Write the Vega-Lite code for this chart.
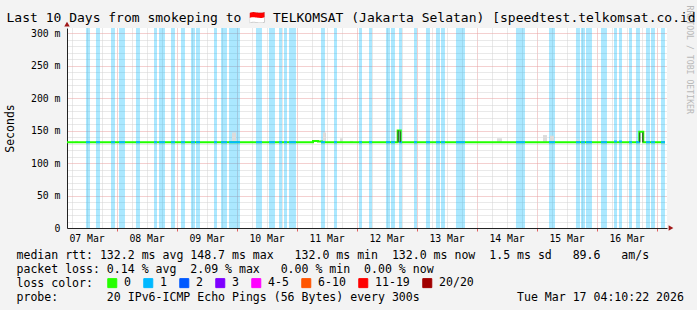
{
  "$schema": "https://vega.github.io/schema/vega-lite/v6.json",
  "width": 600,
  "height": 200,
  "autosize": {"type": "none"},
  "padding": {"left": 67, "top": 28, "right": 30, "bottom": 82},
  "background": "#f3f3f3",
  "config": {
    "view": {"fill": "white", "stroke": null}
  },
  "title": {
    "text": "Last 10 Days from smokeping to 🇮🇩 TELKOMSAT (Jakarta Selatan) [speedtest.telkomsat.co.id]",
    "font": "DejaVu Sans Mono",
    "fontSize": 13,
    "fontWeight": "normal",
    "color": "black",
    "anchor": "middle",
    "frame": "group",
    "offset": 4,
    "dy": 24,
    "dx": -12
  },
  "datasets": {
    "loss": [
      {"start": "2026-03-07T11:46:00Z", "end": "2026-03-07T13:22:00Z", "loss": "1", "median": 132},
      {"start": "2026-03-07T15:46:00Z", "end": "2026-03-07T17:22:00Z", "loss": "1", "median": 132},
      {"start": "2026-03-07T21:46:00Z", "end": "2026-03-07T23:22:00Z", "loss": "1", "median": 132},
      {"start": "2026-03-08T00:58:00Z", "end": "2026-03-08T03:22:00Z", "loss": "1", "median": 132},
      {"start": "2026-03-08T07:46:00Z", "end": "2026-03-08T09:22:00Z", "loss": "1", "median": 132},
      {"start": "2026-03-08T14:58:00Z", "end": "2026-03-08T16:10:00Z", "loss": "1", "median": 132},
      {"start": "2026-03-08T16:58:00Z", "end": "2026-03-08T19:22:00Z", "loss": "1", "median": 132},
      {"start": "2026-03-08T21:46:00Z", "end": "2026-03-08T23:22:00Z", "loss": "1", "median": 132},
      {"start": "2026-03-09T01:46:00Z", "end": "2026-03-09T03:22:00Z", "loss": "1", "median": 132},
      {"start": "2026-03-09T05:46:00Z", "end": "2026-03-09T07:22:00Z", "loss": "1", "median": 132},
      {"start": "2026-03-09T07:46:00Z", "end": "2026-03-09T09:22:00Z", "loss": "1", "median": 132},
      {"start": "2026-03-09T14:58:00Z", "end": "2026-03-09T16:10:00Z", "loss": "1", "median": 132},
      {"start": "2026-03-09T17:46:00Z", "end": "2026-03-09T20:10:00Z", "loss": "1", "median": 132},
      {"start": "2026-03-09T20:58:00Z", "end": "2026-03-10T01:22:00Z", "loss": "1", "median": 132},
      {"start": "2026-03-10T07:46:00Z", "end": "2026-03-10T10:10:00Z", "loss": "1", "median": 132},
      {"start": "2026-03-10T12:58:00Z", "end": "2026-03-10T15:22:00Z", "loss": "1", "median": 132},
      {"start": "2026-03-10T16:58:00Z", "end": "2026-03-10T18:10:00Z", "loss": "1", "median": 132},
      {"start": "2026-03-10T18:58:00Z", "end": "2026-03-10T20:10:00Z", "loss": "1", "median": 132},
      {"start": "2026-03-10T20:58:00Z", "end": "2026-03-10T23:46:00Z", "loss": "1", "median": 132},
      {"start": "2026-03-11T09:46:00Z", "end": "2026-03-11T11:22:00Z", "loss": "1", "median": 132},
      {"start": "2026-03-11T14:58:00Z", "end": "2026-03-11T16:10:00Z", "loss": "1", "median": 132},
      {"start": "2026-03-12T00:58:00Z", "end": "2026-03-12T02:10:00Z", "loss": "1", "median": 132},
      {"start": "2026-03-12T04:58:00Z", "end": "2026-03-12T06:10:00Z", "loss": "1", "median": 132},
      {"start": "2026-03-12T11:46:00Z", "end": "2026-03-12T13:22:00Z", "loss": "1", "median": 132},
      {"start": "2026-03-12T13:46:00Z", "end": "2026-03-12T15:22:00Z", "loss": "1", "median": 132},
      {"start": "2026-03-12T16:58:00Z", "end": "2026-03-12T18:10:00Z", "loss": "1", "median": 132},
      {"start": "2026-03-12T22:58:00Z", "end": "2026-03-13T00:10:00Z", "loss": "1", "median": 132},
      {"start": "2026-03-13T03:46:00Z", "end": "2026-03-13T05:22:00Z", "loss": "1", "median": 132},
      {"start": "2026-03-13T07:46:00Z", "end": "2026-03-13T09:22:00Z", "loss": "1", "median": 132},
      {"start": "2026-03-13T09:46:00Z", "end": "2026-03-13T11:22:00Z", "loss": "1", "median": 132},
      {"start": "2026-03-13T15:46:00Z", "end": "2026-03-13T19:22:00Z", "loss": "1", "median": 132},
      {"start": "2026-03-14T15:46:00Z", "end": "2026-03-14T19:22:00Z", "loss": "1", "median": 132},
      {"start": "2026-03-15T04:58:00Z", "end": "2026-03-15T07:22:00Z", "loss": "1", "median": 132},
      {"start": "2026-03-15T15:46:00Z", "end": "2026-03-15T17:22:00Z", "loss": "1", "median": 132},
      {"start": "2026-03-15T17:46:00Z", "end": "2026-03-15T19:22:00Z", "loss": "1", "median": 132},
      {"start": "2026-03-15T19:46:00Z", "end": "2026-03-15T22:10:00Z", "loss": "1", "median": 132},
      {"start": "2026-03-16T01:46:00Z", "end": "2026-03-16T04:10:00Z", "loss": "1", "median": 132},
      {"start": "2026-03-16T06:58:00Z", "end": "2026-03-16T08:10:00Z", "loss": "1", "median": 133},
      {"start": "2026-03-16T08:58:00Z", "end": "2026-03-16T10:10:00Z", "loss": "1", "median": 133},
      {"start": "2026-03-16T12:58:00Z", "end": "2026-03-16T14:10:00Z", "loss": "1", "median": 132},
      {"start": "2026-03-16T15:46:00Z", "end": "2026-03-16T17:22:00Z", "loss": "1", "median": 132},
      {"start": "2026-03-16T19:46:00Z", "end": "2026-03-16T21:22:00Z", "loss": "1", "median": 132},
      {"start": "2026-03-16T21:46:00Z", "end": "2026-03-16T23:22:00Z", "loss": "1", "median": 132},
      {"start": "2026-03-17T01:46:00Z", "end": "2026-03-17T03:22:00Z", "loss": "1", "median": 132}
    ],
    "median": [
      {"time": "2026-03-07T04:10:22Z", "ms": 132},
      {"time": "2026-03-11T06:34:00Z", "ms": 134},
      {"time": "2026-03-11T08:34:00Z", "ms": 133},
      {"time": "2026-03-11T10:10:00Z", "ms": 132},
      {"time": "2026-03-12T16:27:00Z", "ms": 150},
      {"time": "2026-03-12T17:39:00Z", "ms": 132},
      {"time": "2026-03-16T17:05:00Z", "ms": 148},
      {"time": "2026-03-16T18:41:00Z", "ms": 132},
      {"time": "2026-03-17T03:22:00Z", "ms": 132}
    ],
    "smoke": [
      {"start": "2026-03-07T07:22:00Z", "end": "2026-03-07T08:34:00Z", "lo": 132, "hi": 134},
      {"start": "2026-03-09T22:10:00Z", "end": "2026-03-09T23:46:00Z", "lo": 132, "hi": 147},
      {"start": "2026-03-10T05:22:00Z", "end": "2026-03-10T06:34:00Z", "lo": 132, "hi": 134},
      {"start": "2026-03-11T10:34:00Z", "end": "2026-03-11T11:46:00Z", "lo": 132, "hi": 147},
      {"start": "2026-03-11T17:22:00Z", "end": "2026-03-11T18:34:00Z", "lo": 132, "hi": 138},
      {"start": "2026-03-11T21:22:00Z", "end": "2026-03-11T22:34:00Z", "lo": 132, "hi": 134},
      {"start": "2026-03-14T08:10:00Z", "end": "2026-03-14T10:10:00Z", "lo": 132, "hi": 138},
      {"start": "2026-03-15T02:34:00Z", "end": "2026-03-15T04:10:00Z", "lo": 132, "hi": 143},
      {"start": "2026-03-15T05:22:00Z", "end": "2026-03-15T06:58:00Z", "lo": 132, "hi": 142},
      {"start": "2026-03-15T15:46:00Z", "end": "2026-03-15T16:58:00Z", "lo": 132, "hi": 136}
    ],
    "edges": [
      {"start": "2026-03-12T16:27:00Z", "end": "2026-03-12T16:51:00Z", "lo": 132, "hi": 150},
      {"start": "2026-03-12T17:15:00Z", "end": "2026-03-12T17:39:00Z", "lo": 132, "hi": 149},
      {"start": "2026-03-16T17:05:00Z", "end": "2026-03-16T17:29:00Z", "lo": 132, "hi": 147},
      {"start": "2026-03-16T18:17:00Z", "end": "2026-03-16T18:41:00Z", "lo": 132, "hi": 147}
    ],
    "arrowUp": [
      {"time": "2026-03-07T04:10:22Z", "ms": 313.8}
    ],
    "arrowRight": [
      {"time": "2026-03-17T05:46:00Z", "ms": 0}
    ]
  },
  "resolve": {"axis": {"x": "independent", "y": "independent"}},
  "layer": [
    {
      "data": {"name": "loss"},
      "mark": {"type": "rect", "opacity": 0.33},
      "encoding": {
        "x": {"field": "start", "type": "temporal", "scale": {"type": "utc", "domain": [1772856622000, 1773720622000]}, "axis": null},
        "x2": {"field": "end"},
        "color": {
          "field": "loss", "type": "nominal",
          "scale": {"domain": ["0", "1", "2", "3", "4-5", "6-10", "11-19", "20/20"], "range": ["#26ff00", "#00b8ff", "#0059ff", "#7e00ff", "#ff00ff", "#ff5500", "#ff0000", "#a10000"]},
          "legend": {
            "title": null,
            "orient": "none",
            "legendX": 39.5,
            "legendY": 249,
            "direction": "horizontal",
            "symbolType": "square",
            "symbolSize": 81,
            "symbolStrokeColor": "black",
            "symbolStrokeWidth": 1,
            "symbolOpacity": 1,
            "labelFont": "DejaVu Sans Mono",
            "labelFontSize": 11.55,
            "labelColor": "black",
            "labelOffset": 6,
            "columnPadding": 10
          }
        }
      }
    },
    {
      "data": {"name": "smoke"},
      "mark": {"type": "rect", "color": "#dcdcdc"},
      "encoding": {
        "x": {"field": "start", "type": "temporal", "scale": {"type": "utc", "domain": [1772856622000, 1773720622000]}, "axis": null},
        "x2": {"field": "end"},
        "y": {"field": "lo", "type": "quantitative", "scale": {"domain": [0, 307.7], "nice": false}, "axis": null},
        "y2": {"field": "hi"}
      }
    },
    {
      "data": {"name": "median"},
      "mark": {"type": "line", "interpolate": "step-after", "color": "#22ff00", "strokeWidth": 2},
      "encoding": {
        "x": {
          "field": "time", "type": "temporal",
          "scale": {"type": "utc", "domain": [1772856622000, 1773720622000]},
          "axis": {
            "orient": "bottom",
            "values": [1772863200000, 1772884800000, 1772906400000, 1772928000000, 1772949600000, 1772971200000, 1772992800000, 1773014400000, 1773036000000, 1773057600000, 1773079200000, 1773100800000, 1773122400000, 1773144000000, 1773165600000, 1773187200000, 1773208800000, 1773230400000, 1773252000000, 1773273600000, 1773295200000, 1773316800000, 1773338400000, 1773360000000, 1773381600000, 1773403200000, 1773424800000, 1773446400000, 1773468000000, 1773489600000, 1773511200000, 1773532800000, 1773554400000, 1773576000000, 1773597600000, 1773619200000, 1773640800000, 1773662400000, 1773684000000, 1773705600000],
            "labelExpr": "utchours(datum.value) === 12 ? utcFormat(datum.value, '%d %b') : ''",
            "labelOverlap": false,
            "labelFlush": false,
            "labelFont": "DejaVu Sans Mono",
            "labelFontSize": 9.8,
            "labelColor": "black",
            "labelPadding": 2,
            "labelBaseline": "top",
            "tickSize": 3,
            "tickColor": {"condition": {"test": "utchours(datum.value) === 0", "value": "#e06060"}, "value": "rgba(0,0,0,0)"},
            "grid": true,
            "gridColor": {"condition": {"test": "utchours(datum.value) === 0", "value": "#e8a0a0"}, "value": "#d2d2d2"},
            "gridDash": [1, 1],
            "domainColor": "#222222",
            "title": [
              "median rtt:  132.2 ms avg  148.7 ms max \u00a0\u00a0132.0 ms min \u00a0132.0 ms now \u00a01.5 ms sd \u00a0\u00a089.6 \u00a0\u00a0am/s",
              "packet loss: 0.14 % avg \u00a02.09 % max \u00a0\u00a00.00 % min \u00a00.00 % now",
              "loss color:",
              "probe: \u00a0\u00a0\u00a0\u00a0\u00a0\u00a020 IPv6-ICMP Echo Pings (56 Bytes) every 300s \u00a0\u00a0\u00a0\u00a0\u00a0\u00a0\u00a0\u00a0\u00a0\u00a0\u00a0\u00a0\u00a0Tue Mar 17 04:10:22 2026"
            ],
            "titleFont": "DejaVu Sans Mono",
            "titleFontSize": 11.55,
            "titleFontWeight": "normal",
            "titleColor": "black",
            "titleAlign": "left",
            "titleBaseline": "alphabetic",
            "titleLineHeight": 14,
            "titleX": -51,
            "titleY": 30
          }
        },
        "y": {
          "field": "ms", "type": "quantitative",
          "scale": {"domain": [0, 307.7], "nice": false},
          "axis": {
            "orient": "left",
            "values": [0, 10, 20, 30, 40, 50, 60, 70, 80, 90, 100, 110, 120, 130, 140, 150, 160, 170, 180, 190, 200, 210, 220, 230, 240, 250, 260, 270, 280, 290, 300],
            "labelExpr": "datum.value % 50 === 0 ? (datum.value === 0 ? '0\u00a0\u00a0' : datum.value + ' m') : ''",
            "labelOverlap": false,
            "labelFont": "DejaVu Sans Mono",
            "labelFontSize": 9.8,
            "labelColor": "black",
            "labelPadding": 7,
            "ticks": false,
            "grid": true,
            "gridColor": {"condition": {"test": "datum.value % 50 === 0", "value": "#e8a0a0"}, "value": "#d2d2d2"},
            "gridDash": [1, 1],
            "domainColor": "#222222",
            "title": "Seconds",
            "titleFont": "DejaVu Sans Mono",
            "titleFontSize": 11.5,
            "titleFontWeight": "normal",
            "titleColor": "black",
            "titleX": -56.5,
            "titleY": 100,
            "titleAlign": "center",
            "titleBaseline": "middle"
          }
        }
      }
    },
    {
      "data": {"name": "loss"},
      "mark": {"type": "rule", "strokeWidth": 2},
      "encoding": {
        "x": {"field": "start", "type": "temporal", "scale": {"type": "utc", "domain": [1772856622000, 1773720622000]}, "axis": null},
        "x2": {"field": "end"},
        "y": {"field": "median", "type": "quantitative", "scale": {"domain": [0, 307.7], "nice": false}, "axis": null},
        "color": {"field": "loss", "type": "nominal"}
      }
    },
    {
      "data": {"name": "edges"},
      "mark": {"type": "rect", "color": "#333333"},
      "encoding": {
        "x": {"field": "start", "type": "temporal", "scale": {"type": "utc", "domain": [1772856622000, 1773720622000]}, "axis": null},
        "x2": {"field": "end"},
        "y": {"field": "lo", "type": "quantitative", "scale": {"domain": [0, 307.7], "nice": false}, "axis": null},
        "y2": {"field": "hi"}
      }
    },
    {
      "data": {"name": "arrowUp"},
      "mark": {"type": "point", "shape": "triangle-up", "filled": true, "color": "#a01818", "size": 30, "opacity": 1},
      "encoding": {
        "x": {"field": "time", "type": "temporal", "scale": {"type": "utc", "domain": [1772856622000, 1773720622000]}, "axis": null},
        "y": {
          "field": "ms", "type": "quantitative", "scale": {"domain": [0, 307.7], "nice": false},
          "axis": {
            "orient": "right",
            "labels": false,
            "ticks": false,
            "domain": false,
            "grid": false,
            "title": "RRDTOOL / TOBI OETIKER",
            "titleFont": "DejaVu Sans Mono",
            "titleFontSize": 8.2,
            "titleFontWeight": "normal",
            "titleColor": "#b8b8b8",
            "titleAngle": 90,
            "titleAlign": "left",
            "titleBaseline": "middle",
            "titleX": 21,
            "titleY": -23
          }
        }
      }
    },
    {
      "data": {"name": "arrowRight"},
      "mark": {"type": "point", "shape": "triangle-right", "filled": true, "color": "#a01818", "size": 30, "opacity": 1},
      "encoding": {
        "x": {"field": "time", "type": "temporal", "scale": {"type": "utc", "domain": [1772856622000, 1773720622000]}, "axis": null},
        "y": {"field": "ms", "type": "quantitative", "scale": {"domain": [0, 307.7], "nice": false}, "axis": null}
      }
    }
  ]
}
